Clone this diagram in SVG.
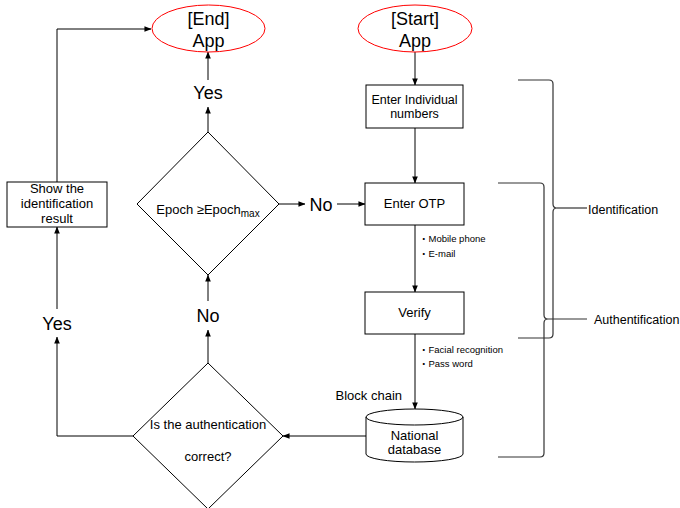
<svg xmlns="http://www.w3.org/2000/svg" width="680" height="508" viewBox="0 0 680 508">
<defs>
<marker id="ah" viewBox="0 0 8 8" refX="7.5" refY="4" markerWidth="7" markerHeight="7" markerUnits="userSpaceOnUse" orient="auto">
<path d="M0,0.8 L8,4 L0,7.2 Z" fill="#000"/>
</marker>
<style>
text{font-family:"Liberation Sans",Arial,"Noto Sans CJK JP",sans-serif;fill:#000}
.big{font-size:18px;text-anchor:middle}
.t13{font-size:13px;text-anchor:middle}
.t12{font-size:12.5px;text-anchor:middle}
.sm{font-size:9.5px}
.lbl{font-size:12.5px}
.node{fill:#fff;stroke:#000;stroke-width:1}
.term{fill:#fff;stroke:#ff0000;stroke-width:1}
.con{fill:none;stroke:#000;stroke-width:1}
.arr{marker-end:url(#ah)}
.brace{fill:none;stroke:#333;stroke-width:1.2}
</style>
</defs>
<rect width="680" height="508" fill="#fff"/>

<g id="connectors">
<path class="con arr" d="M415,52 V85"/>
<path class="con arr" d="M415,128 V183"/>
<path class="con arr" d="M415,225 V292"/>
<path class="con arr" d="M415,334 V409"/>
<path class="con arr" d="M366,436 H283"/>
<path class="con arr" d="M208,363 V330"/>
<path class="con arr" d="M208,301 V275"/>
<path class="con arr" d="M279,204 H305"/>
<path class="con arr" d="M337,204 H365"/>
<path class="con arr" d="M208,132 V107"/>
<path class="con arr" d="M208,80 V52"/>
<path class="con arr" d="M133,436 H57 V337"/>
<path class="con arr" d="M57,309 V227"/>
<path class="con arr" d="M57,182 V29 H151"/>
</g>

<g id="end">
<ellipse class="term" cx="208.5" cy="28.5" rx="56.5" ry="23.5"/>
<text class="big" x="208.5" y="25">[End]</text>
<text class="big" x="208.5" y="47">App</text>
</g>
<g id="start">
<ellipse class="term" cx="415" cy="28.5" rx="57" ry="23.5"/>
<text class="big" x="415" y="25">[Start]</text>
<text class="big" x="415" y="47">App</text>
</g>
<g id="enter-individual">
<rect class="node" x="366" y="85" width="97" height="43"/>
<text class="t12" x="414.5" y="104">Enter Individual</text>
<text class="t12" x="414.5" y="118">numbers</text>
</g>
<g id="enter-otp">
<rect class="node" x="365" y="183" width="99" height="42"/>
<text class="t13" x="414.5" y="208">Enter OTP</text>
</g>
<g id="verify">
<rect class="node" x="365" y="292" width="99" height="42"/>
<text class="t13" x="414.5" y="317">Verify</text>
</g>
<g id="database">
<path class="node" d="M366,417 A48.5,8 0 0 1 463,417 V454 A48.5,8 0 0 1 366,454 Z"/>
<path class="con" d="M366,417 A48.5,8 0 0 0 463,417"/>
<text class="t13" x="414.5" y="440">National</text>
<text class="t13" x="414.5" y="454">database</text>
</g>
<g id="epoch-check">
<path class="node" d="M208,132 L279,204 L208,275 L137,204 Z"/>
<text x="208" y="214" style="font-size:13px;text-anchor:middle">Epoch ≥Epoch<tspan style="font-size:10px" dy="3">max</tspan></text>
</g>
<g id="auth-check">
<path class="node" d="M208,363 L283,436 L208,509 L133,436 Z"/>
<text class="t13" x="208" y="429">Is the authentication</text>
<text class="t13" x="208" y="461">correct?</text>
</g>
<g id="show-result">
<rect class="node" x="7" y="182" width="100" height="45"/>
<text class="t13" x="57" y="193">Show the</text>
<text class="t13" x="57" y="208">identification</text>
<text class="t13" x="57" y="223">result</text>
</g>

<g id="labels">
<text class="big" x="208" y="99">Yes</text>
<text class="big" x="321" y="211">No</text>
<text class="big" x="208" y="322">No</text>
<text class="big" x="57" y="330">Yes</text>
<text class="lbl" x="402" y="400" style="text-anchor:end;font-size:13px">Block chain</text>
<text class="sm" x="419" y="241.5">・Mobile phone</text>
<text class="sm" x="419" y="256.5">・E-mail</text>
<text class="sm" x="419" y="352.5">・Facial recognition</text>
<text class="sm" x="419" y="366.5">・Pass word</text>
</g>

<g id="identification-brace">
<path class="brace" d="M518,80 H549 Q553,80 553,84 V204 Q553,208 557,208 Q553,208 553,212 V334 Q553,338 549,338 H518"/>
<path class="brace" d="M557,208 H587"/>
<text class="lbl" x="588" y="214">Identification</text>
</g>
<g id="authentification-brace">
<path class="brace" d="M498,183 H540 Q544,183 544,187 V315 Q544,319 548,319 Q544,319 544,323 V453 Q544,457 540,457 H498"/>
<path class="brace" d="M548,319 H587"/>
<text class="lbl" x="594" y="324">Authentification</text>
</g>
</svg>
